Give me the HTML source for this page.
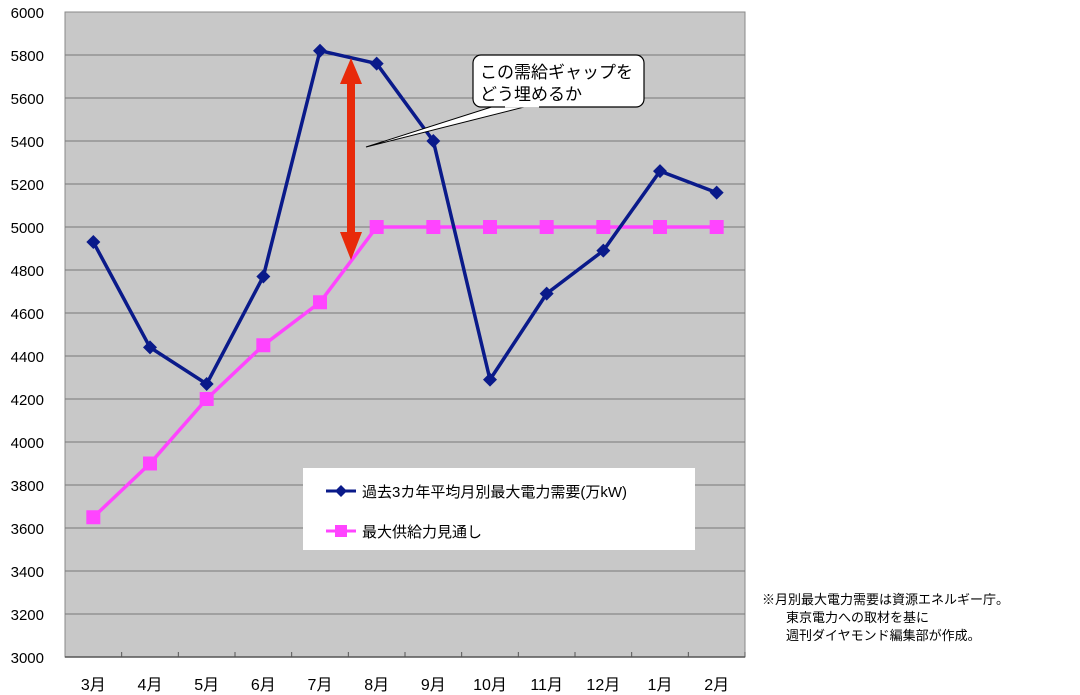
<!DOCTYPE html>
<html><head><meta charset="utf-8">
<style>
body{margin:0;background:#fff;}
svg{display:block;font-family:"Liberation Sans","Noto Sans CJK JP",sans-serif;}
</style></head>
<body>
<svg id="chart" width="1080" height="695" viewBox="0 0 1080 695">
<rect x="65" y="12" width="680" height="645" fill="#c8c8c8" stroke="#888" stroke-width="1"/>
<g id="grid"></g>
<g id="yticks"></g>
<g id="xticks"></g>
<polyline id="supply-line" fill="none" stroke="#ff44ff" stroke-width="3.5"/>
<g id="supply-marks"></g>
<polyline id="demand-line" fill="none" stroke="#0a1a8a" stroke-width="3.5"/>
<g id="demand-marks"></g>
<g>
<line x1="351" y1="82" x2="351" y2="234" stroke="#e82a0a" stroke-width="8"/>
<polygon points="351,58 340,84 362,84" fill="#e82a0a"/>
<polygon points="351,260 340,232 362,232" fill="#e82a0a"/>
</g>
<g>
<polygon points="366,147 504,103 540,103" fill="#fff" stroke="#000" stroke-width="1"/>
<rect x="473" y="55" width="171" height="52" rx="8" fill="#fff" stroke="#000" stroke-width="1.2"/>
<line x1="505" y1="106.5" x2="539" y2="106.5" stroke="#fff" stroke-width="2"/>
<text x="480" y="78" font-size="17">この需給ギャップを</text>
<text x="480" y="100" font-size="17">どう埋めるか</text>
</g>
<g>
<rect x="303" y="468" width="392" height="82" fill="#fff"/>
<g>
<line x1="326" y1="491" x2="356" y2="491" stroke="#0a1a8a" stroke-width="3"/>
<polygon points="341,485 347,491 341,497 335,491" fill="#0a1a8a"/>
<text x="362" y="497" font-size="15">過去3カ年平均月別最大電力需要(万kW)</text>
</g>
<g>
<line x1="326" y1="531" x2="356" y2="531" stroke="#ff44ff" stroke-width="3"/>
<rect x="335" y="525" width="12" height="12" fill="#ff44ff"/>
<text x="362" y="537" font-size="15">最大供給力見通し</text>
</g>
</g>
<g font-size="13">
<text x="762" y="604">※月別最大電力需要は資源エネルギー庁。</text>
<text x="786" y="622">東京電力への取材を基に</text>
<text x="786" y="640">週刊ダイヤモンド編集部が作成。</text>
</g>
</svg>
<script>
const categories=["3月","4月","5月","6月","7月","8月","9月","10月","11月","12月","1月","2月"];
const demandValues=[4930,4440,4270,4770,5820,5760,5400,4290,4690,4890,5260,5160];
const supplyValues=[3650,3900,4200,4450,4650,5000,5000,5000,5000,5000,5000,5000];
const yTickValues=[3000,3200,3400,3600,3800,4000,4200,4400,4600,4800,5000,5200,5400,5600,5800,6000];
const yMin=3000,yMax=6000,pL=65,pR=745,pT=12,pB=657;
const NS="http://www.w3.org/2000/svg";
const step=(pR-pL)/categories.length;
function xs(i){return pL+step*(i+0.5);}
function ys(v){return pB-(v-yMin)/(yMax-yMin)*(pB-pT);}
function mk(t,a,p){const e=document.createElementNS(NS,t);for(const k in a)e.setAttribute(k,a[k]);p.appendChild(e);return e;}
const grid=document.getElementById('grid'),yt=document.getElementById('yticks'),xt=document.getElementById('xticks');
yTickValues.forEach(v=>{
 if(v>yMin&&v<yMax){const l=mk('line',{x1:pL,x2:pR,y1:ys(v),y2:ys(v),stroke:'#777','stroke-width':1},grid);
 
 }
 const t=mk('text',{x:44,y:ys(v)+6,'font-size':15,'text-anchor':'end'},yt);
 
 
 t.textContent=v;
});
mk('line',{x1:pL,x2:pR,y1:pB,y2:pB,stroke:'#555','stroke-width':1.5},xt);
categories.forEach((c,i)=>{
 mk('line',{x1:pL+step*(i+1),x2:pL+step*(i+1),y1:pB,y2:pB-5,stroke:'#555'},xt);
 const t=mk('text',{x:xs(i),y:690,'font-size':16,'text-anchor':'middle'},xt);
 
 
 t.textContent=c;
});
document.getElementById('supply-line').setAttribute('points',supplyValues.map((v,i)=>xs(i)+','+ys(v)).join(' '));
document.getElementById('demand-line').setAttribute('points',demandValues.map((v,i)=>xs(i)+','+ys(v)).join(' '));
const sm=document.getElementById('supply-marks'),dm=document.getElementById('demand-marks');
supplyValues.forEach((v,i)=>{
 const r=mk('rect',{x:xs(i)-7,y:ys(v)-7,width:14,height:14,fill:'#ff44ff'},sm);
 
 
});
demandValues.forEach((v,i)=>{
 const x=xs(i),y=ys(v);
 const p=mk('polygon',{points:`${x},${y-7} ${x+7},${y} ${x},${y+7} ${x-7},${y}`,fill:'#0a1a8a'},dm);
 
 
});
</script>
</body></html>
